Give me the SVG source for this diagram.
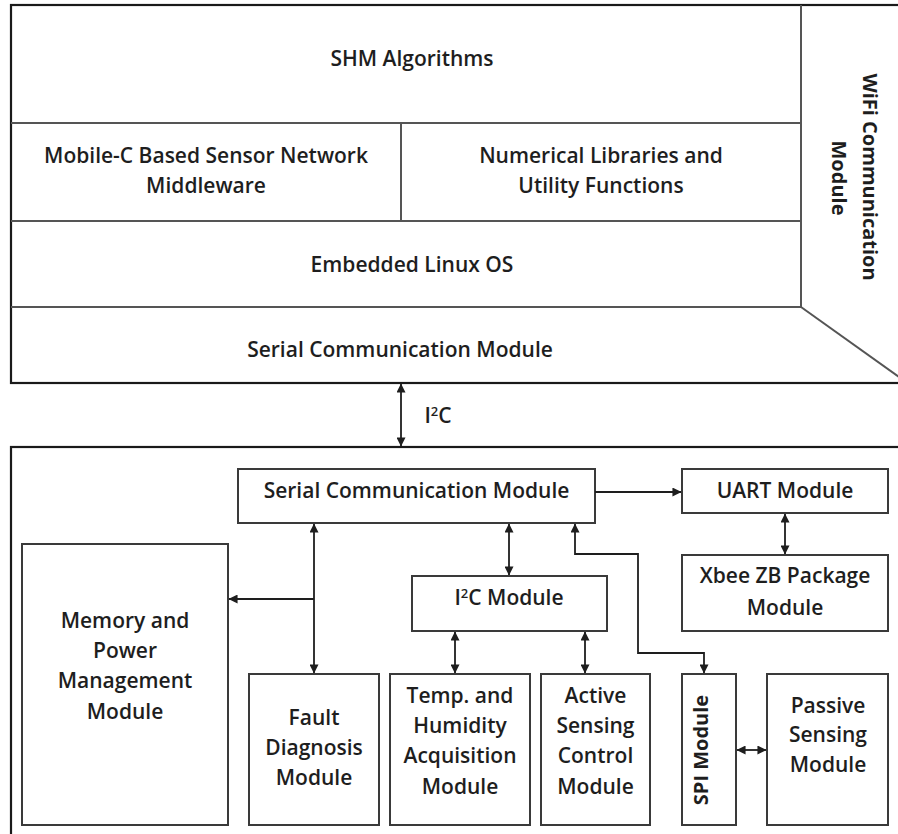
<svg xmlns="http://www.w3.org/2000/svg" width="898" height="834" viewBox="0 0 898 834">
  <defs>
    <style>
      .frame { fill: none; stroke: #1a1a1a; stroke-width: 2.2; }
      .div { fill: none; stroke: #555; stroke-width: 2; }
      .box { fill: #fff; stroke: #3a3a3a; stroke-width: 2; }
      .lbl { font-family: "Open Sans", "Liberation Sans", sans-serif; font-size: 21px; font-weight: 600; fill: #1e1e1e; text-anchor: middle; }
      .vlbl { font-family: "Open Sans", "Liberation Sans", sans-serif; font-size: 20px; font-weight: 700; fill: #1e1e1e; text-anchor: middle; }
      .sup { font-size: 13px; }
      .wire { fill: none; stroke: #1e1e1e; stroke-width: 1.8; }
    </style>
    <marker id="ah" viewBox="0 0 10 10" refX="9.5" refY="5" markerWidth="9" markerHeight="9" markerUnits="userSpaceOnUse" orient="auto-start-reverse">
      <path d="M0,0 L10,5 L0,10 z" fill="#1e1e1e"/>
    </marker>
  </defs>

  <rect width="898" height="834" fill="#fff"/>

  <!-- Upper software stack -->
  <g id="stack">
    <rect class="frame" x="11" y="5" width="900" height="378"/>
    <line class="div" x1="801" y1="5" x2="801" y2="307"/>
    <line class="div" x1="11" y1="123" x2="801" y2="123"/>
    <line class="div" x1="11" y1="221" x2="801" y2="221"/>
    <line class="div" x1="11" y1="307" x2="801" y2="307"/>
    <line class="div" x1="401" y1="123" x2="401" y2="221"/>
    <line class="div" x1="801" y1="307" x2="906" y2="382"/>
  </g>
  <g id="shm"><text class="lbl" x="412" y="66">SHM Algorithms</text></g>
  <g id="middleware">
    <text class="lbl" x="206" y="163">Mobile-C Based Sensor Network</text>
    <text class="lbl" x="206" y="193">Middleware</text>
  </g>
  <g id="numlib">
    <text class="lbl" x="601" y="163">Numerical Libraries and</text>
    <text class="lbl" x="601" y="193">Utility Functions</text>
  </g>
  <g id="linux"><text class="lbl" x="412" y="272">Embedded Linux OS</text></g>
  <g id="serial-top"><text class="lbl" x="400" y="357">Serial Communication Module</text></g>
  <g id="wifi">
    <text class="vlbl" transform="translate(863 177) rotate(90)" x="0" y="0">WiFi Communication</text>
    <text class="vlbl" transform="translate(832 178) rotate(90)" x="0" y="0">Module</text>
  </g>

  <!-- Lower hardware board -->
  <g id="board">
    <rect class="frame" x="11" y="447" width="900" height="400"/>
  </g>
  <g id="serial-board">
    <rect class="box" x="238" y="469" width="357" height="54"/>
    <text class="lbl" x="416.5" y="498">Serial Communication Module</text>
  </g>
  <g id="uart">
    <rect class="box" x="682" y="469" width="206" height="44"/>
    <text class="lbl" x="785" y="498">UART Module</text>
  </g>
  <g id="xbee">
    <rect class="box" x="682" y="555" width="206" height="76"/>
    <text class="lbl" x="785" y="583">Xbee ZB Package</text>
    <text class="lbl" x="785" y="615">Module</text>
  </g>
  <g id="i2c-module">
    <rect class="box" x="412" y="576" width="195" height="55"/>
    <text class="lbl" x="509" y="605">I<tspan class="sup" dy="-7">2</tspan><tspan dy="7">C Module</tspan></text>
  </g>
  <g id="memory">
    <rect class="box" x="22" y="544" width="206" height="281"/>
    <text class="lbl" x="125" y="628">Memory and</text>
    <text class="lbl" x="125" y="658">Power</text>
    <text class="lbl" x="125" y="688">Management</text>
    <text class="lbl" x="125" y="719">Module</text>
  </g>
  <g id="fault">
    <rect class="box" x="249" y="674" width="130" height="151"/>
    <text class="lbl" x="314" y="725">Fault</text>
    <text class="lbl" x="314" y="755">Diagnosis</text>
    <text class="lbl" x="314" y="785">Module</text>
  </g>
  <g id="temp">
    <rect class="box" x="390" y="674" width="140" height="151"/>
    <text class="lbl" x="460" y="703">Temp. and</text>
    <text class="lbl" x="460" y="733">Humidity</text>
    <text class="lbl" x="460" y="763">Acquisition</text>
    <text class="lbl" x="460" y="794">Module</text>
  </g>
  <g id="active">
    <rect class="box" x="541" y="674" width="109" height="151"/>
    <text class="lbl" x="595.5" y="703">Active</text>
    <text class="lbl" x="595.5" y="733">Sensing</text>
    <text class="lbl" x="595.5" y="763">Control</text>
    <text class="lbl" x="595.5" y="794">Module</text>
  </g>
  <g id="spi">
    <rect class="box" x="682" y="674" width="54" height="151"/>
    <text class="vlbl" transform="translate(708 750) rotate(-90)" x="0" y="0">SPI Module</text>
  </g>
  <g id="passive">
    <rect class="box" x="767" y="674" width="121" height="151"/>
    <text class="lbl" x="828" y="713">Passive</text>
    <text class="lbl" x="828" y="742">Sensing</text>
    <text class="lbl" x="828" y="772">Module</text>
  </g>

  <!-- Connectors -->
  <g id="connectors">
    <line class="wire" x1="401" y1="384" x2="401" y2="446" marker-start="url(#ah)" marker-end="url(#ah)"/>
    <text class="lbl" x="438" y="423">I<tspan class="sup" dy="-7">2</tspan><tspan dy="7">C</tspan></text>
    <line class="wire" x1="595" y1="492" x2="681" y2="492" marker-end="url(#ah)"/>
    <line class="wire" x1="785" y1="514" x2="785" y2="554" marker-start="url(#ah)" marker-end="url(#ah)"/>
    <line class="wire" x1="509" y1="524" x2="509" y2="575" marker-start="url(#ah)" marker-end="url(#ah)"/>
    <line class="wire" x1="314" y1="524" x2="314" y2="673" marker-start="url(#ah)" marker-end="url(#ah)"/>
    <line class="wire" x1="314" y1="599" x2="229" y2="599" stroke-width="2.4" marker-end="url(#ah)"/>
    <line class="wire" x1="455" y1="632" x2="455" y2="673" marker-start="url(#ah)" marker-end="url(#ah)"/>
    <line class="wire" x1="585" y1="632" x2="585" y2="673" marker-start="url(#ah)" marker-end="url(#ah)"/>
    <polyline class="wire" points="575,524 575,554 638,554 638,653 704,653 704,673" marker-start="url(#ah)" marker-end="url(#ah)"/>
    <line class="wire" x1="737" y1="750" x2="766" y2="750" marker-start="url(#ah)" marker-end="url(#ah)"/>
  </g>
</svg>
